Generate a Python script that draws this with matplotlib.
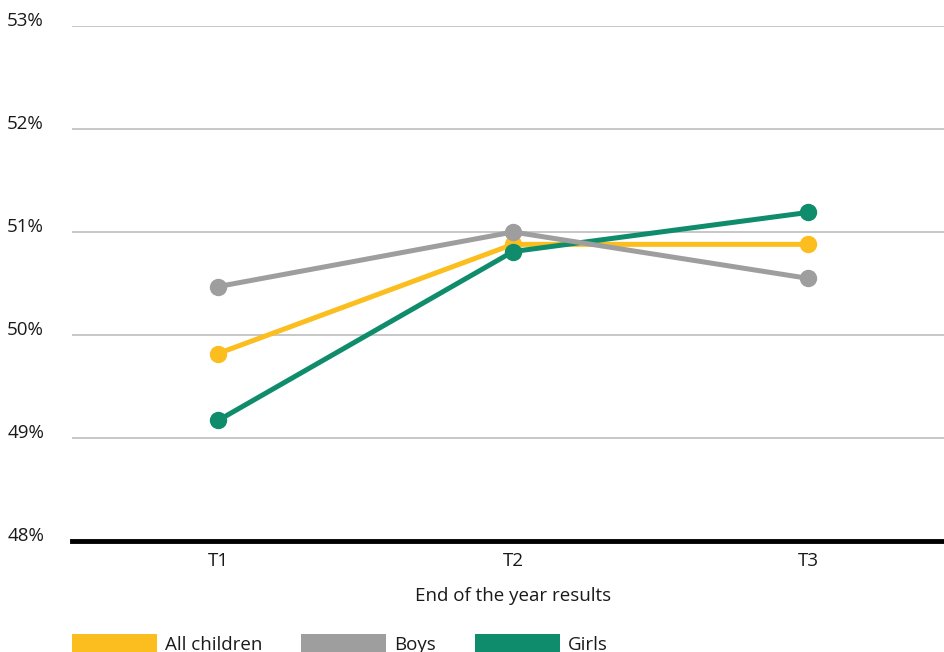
import matplotlib.pyplot as plt
import matplotlib.transforms as mtransforms
from matplotlib.patches import Patch

plt.rcParams['font.family'] = ['Open Sans', 'DejaVu Sans']

terms = ["T1", "T2", "T3"]
all_children = [49.82, 50.88, 50.88]
boys = [50.47, 51.0, 50.55]
girls = [49.17, 50.81, 51.19]
y_ticks = [48, 49, 50, 51, 52, 53]

series = [
    ("All children", all_children, "#FBBE1E", 3),
    ("Boys", boys, "#9E9E9E", 4),
    ("Girls", girls, "#0E8C6B", 3.5),
]

fs = 13.5
fig = plt.figure(figsize=(9.44, 6.52), dpi=100)
ax = fig.add_axes([72 / 944, 1 - 541 / 652, 1 - 72 / 944, (541 - 26) / 652])

x = list(range(len(terms)))
for name, vals, color, z in series:
    ax.plot(x, vals, color=color, lw=3.6, marker="o", ms=11.5,
            solid_capstyle="round", zorder=z, label=name)

ax.set_xlim(-0.495, 2.461)
ax.set_ylim(48, 53)
ax.set_xticks(x)
ax.set_xticklabels(terms, fontsize=fs, color="#1a1a1a")
ax.tick_params(axis="x", length=0, pad=8)

ax.set_yticks(y_ticks)
ax.set_yticklabels([])
ax.tick_params(axis="y", length=0)
ax.grid(axis="y", color="#BDBDBD", lw=1.2, zorder=0)
lab_tr = mtransforms.offset_copy(ax.get_yaxis_transform(), fig=fig, x=-28, y=5, units="dots")
for t in y_ticks:
    ax.text(0, t, f"{t}%", transform=lab_tr, ha="right", va="center",
            fontsize=fs, color="#1a1a1a", clip_on=False)

for s in ["top", "right", "left"]:
    ax.spines[s].set_visible(False)
ax.spines["bottom"].set_color("black")
ax.spines["bottom"].set_linewidth(3.5)
ax.spines["bottom"].set_zorder(5)

ax.set_xlabel("End of the year results", fontsize=fs, color="#1a1a1a", labelpad=12)
ax.xaxis.label.set_x(0.506)

handles = [Patch(facecolor=c, edgecolor="none", label=n) for n, _, c, _ in series]
fig.legend(handles=handles, loc="center left", bbox_to_anchor=(72 / 944, 1 - 644 / 652),
           ncol=3, frameon=False, fontsize=fs, handlelength=4.53, handleheight=1.1,
           handletextpad=0.45, columnspacing=2.05, borderpad=0, borderaxespad=0,
           labelcolor="#1a1a1a")

fig.savefig("out.png", dpi=100)
